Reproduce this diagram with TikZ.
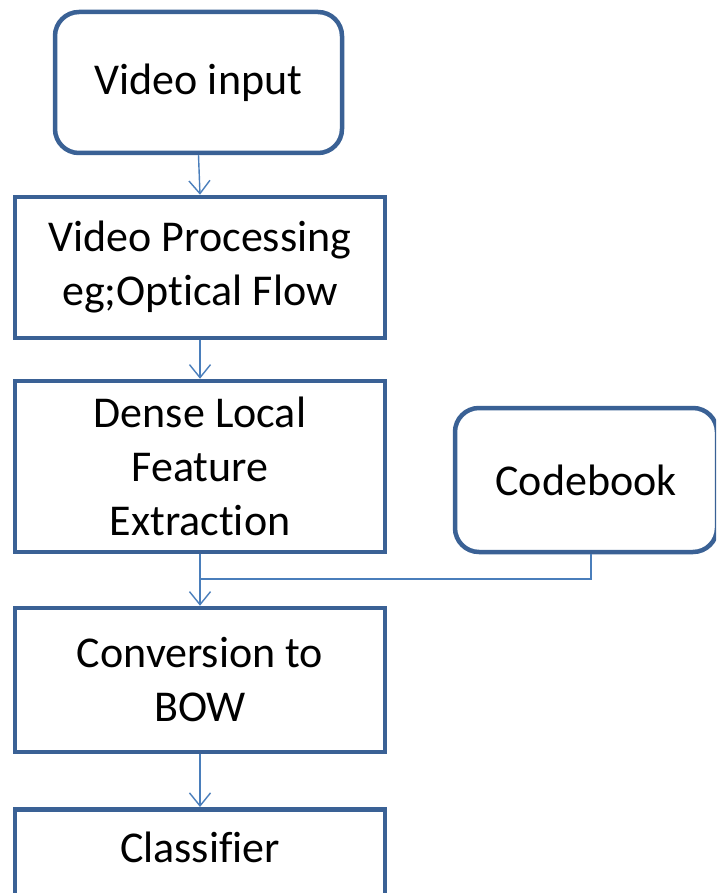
\documentclass[tikz,border=0pt]{standalone}
\usepackage{fontspec}
\setmainfont[RawFeature={-liga;-clig;-dlig}]{Carlito}
\usetikzlibrary{arrows.meta}
\definecolor{boxline}{HTML}{3A6195}
\definecolor{linkline}{HTML}{4A7EBB}
\tikzset{
  stepbox/.style={draw=boxline, line width=4.5pt, fill=white, minimum width=370pt,
    align=center, inner sep=0pt},
  roundbox/.style={stepbox, rounded corners=24pt},
  lbl/.style={align=center, inner sep=0pt},
  link/.style={draw=linkline, line width=1.4pt},
  flow/.style={link, -{Straight Barb[length=13pt,width=21pt,line width=1.4pt]}},
}
\begin{document}
\begin{tikzpicture}[x=1pt,y=-1pt,
  every node/.append style={font=\fontsize{44}{54}\selectfont}]
\useasboundingbox (0,0) rectangle (716,893);
\clip (0,0) rectangle (716,893);
\fill[white] (0,0) rectangle (716,893);

% main column of processing steps
\node[roundbox, minimum width=287pt, minimum height=141pt] (vin) at (198.5,82.5) {Video input};
\node[stepbox, minimum height=141pt] (vproc) at (200,267.5) {Video Processing\\eg;Optical Flow};
\node[stepbox, minimum height=171pt] (dlf) at (200,466.5) {Dense Local\\Feature\\Extraction};
\node[stepbox, minimum height=144pt] (cbw) at (200,680) {Conversion to\\BOW};
\node[stepbox, anchor=north, minimum height=150pt] (clf) at (200,807) {};
\node[lbl] (clftext) at (200,847) {Classifier};

% codebook on the side
\node[roundbox, minimum width=262pt, minimum height=144pt] (cb) at (586,480) {Codebook};

% connectors
\coordinate (join) at (200,579);
\draw[flow] (vin.south) -- (vproc.north);
\draw[flow] (vproc.south) -- (dlf.north);
\draw[flow] (dlf.south) -- (cbw.north);
\draw[link] ([xshift=5pt]cb.south) |- (join);
\draw[flow] (cbw.south) -- (clf.north);
\end{tikzpicture}
\end{document}
